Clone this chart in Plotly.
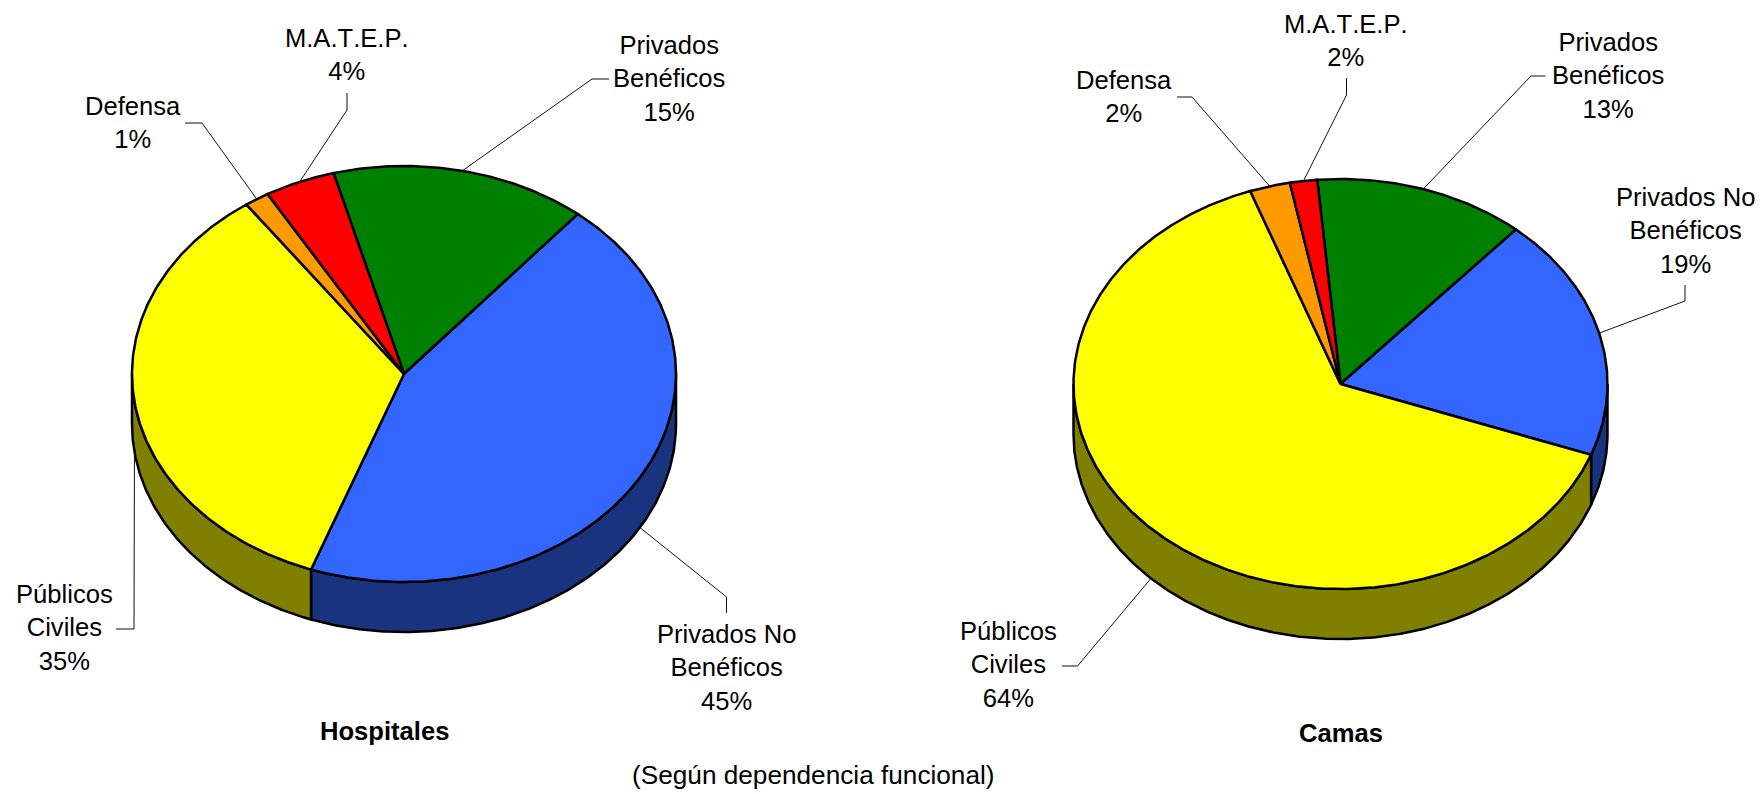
import numpy as np
import plotly.graph_objects as go

# ---- data (clockwise from the first slice) ----
categories = ["Privados Benéficos", "Privados No Benéficos", "Públicos Civiles", "Defensa", "M.A.T.E.P."]
hospitales_values = [15.2, 44.5, 34.6, 1.47, 4.2]
camas_values = [12.8, 19.2, 63.9, 2.45, 1.65]
hospitales_labels = ["15%", "45%", "35%", "1%", "4%"]
camas_labels = ["13%", "19%", "64%", "2%", "2%"]
label_names = ["Privados<br>Benéficos", "Privados No<br>Benéficos", "Públicos<br>Civiles", "Defensa", "M.A.T.E.P."]
chart_titles = ["Hospitales", "Camas"]
subtitle = "(Según dependencia funcional)"

# ---- styles ----
top_colors = ["#008000", "#3366FF", "#FFFF00", "#FF9900", "#FF0000"]
side_colors = ["#004000", "#1A337F", "#808000", "#804C00", "#800000"]
FONT = "Liberation Sans, Arial, sans-serif"
FS = 25.6
FS_SUB = 26.2
EDGE = 2.5

# ---- layout geometry, pixels ----
pies = [
    dict(cx=404.0, cy=374.0, rx=272.0, ry=208.0, depth=50.0, start=-15.0,
         values=hospitales_values, labels=hospitales_labels,
         text_pos=[(669, 78), (726.5, 667), (64, 627.5), (133, 122), (346.5, 54)],
         elbows=[[(609, 79), (592, 79)], [(726.5, 613), (726.5, 597)], [(116, 629), (134, 629)],
                 [(185, 123), (202, 123)], [(347, 93), (347, 110)]],
         title_pos=(384, 731)),
    dict(cx=1340.5, cy=384.0, rx=267.0, ry=205.0, depth=50.0, start=-5.0,
         values=camas_values, labels=camas_labels,
         text_pos=[(1607.5, 75.5), (1685, 230), (1008, 664.5), (1124, 96), (1345.5, 40)],
         elbows=[[(1545.5, 76), (1531, 76)], [(1685, 285), (1685, 301)], [(1062, 666), (1077.5, 666)],
                 [(1177, 97), (1192, 97)], [(1346.5, 78), (1346.5, 95)]],
         title_pos=(1341, 733)),
]


def ell(p, deg):
    t = np.radians(deg)
    return p["cx"] + p["rx"] * np.sin(t), p["cy"] - p["ry"] * np.cos(t)


fig = go.Figure()
annotations = []

for p in pies:
    vals = np.array(p["values"], dtype=float)
    edges = p["start"] + np.concatenate([[0], np.cumsum(vals / vals.sum() * 360)])

    # side wall: only the front half (90..270 degrees) of the rim is visible
    for i in range(len(vals)):
        for k in (-360, 0, 360):
            lo, hi = max(edges[i], 90 + k), min(edges[i + 1], 270 + k)
            if lo >= hi:
                continue
            a = np.linspace(lo, hi, max(3, int((hi - lo) * 2)))
            x, y = ell(p, a)
            xs = np.concatenate([x, x[::-1], x[:1]])
            ys = np.concatenate([y, y[::-1] + p["depth"], y[:1]])
            fig.add_trace(go.Scatter(x=xs, y=ys, mode="lines", fill="toself", fillcolor=side_colors[i],
                                     line=dict(color="black", width=EDGE), hoverinfo="skip", showlegend=False))

    # top face
    for i in range(len(vals)):
        a = np.linspace(edges[i], edges[i + 1], max(3, int((edges[i + 1] - edges[i]) * 2)))
        x, y = ell(p, a)
        xs = np.concatenate([[p["cx"]], x, [p["cx"]]])
        ys = np.concatenate([[p["cy"]], y, [p["cy"]]])
        fig.add_trace(go.Scatter(x=xs, y=ys, mode="lines", fill="toself", fillcolor=top_colors[i],
                                 line=dict(color="black", width=EDGE), name=categories[i],
                                 text=f"{categories[i]}: {p['labels'][i]}", hoverinfo="text", showlegend=False))

    # leader lines and labels
    for i in range(len(vals)):
        mid = (edges[i] + edges[i + 1]) / 2
        ax, ay = ell(p, mid)
        if np.cos(np.radians(mid)) < 0:
            ay += p["depth"]
        (x0, y0), (x1, y1) = p["elbows"][i]
        fig.add_trace(go.Scatter(x=[x0, x1, ax], y=[y0, y1, ay], mode="lines",
                                 line=dict(color="#111111", width=1), hoverinfo="skip", showlegend=False))
        tx, ty = p["text_pos"][i]
        annotations.append(dict(x=tx, y=ty, text=f"{label_names[i]}<br>{p['labels'][i]}", showarrow=False,
                                xanchor="center", yanchor="middle", align="center",
                                font=dict(family=FONT, size=FS, color="black")))

for p, t in zip(pies, chart_titles):
    annotations.append(dict(x=p["title_pos"][0], y=p["title_pos"][1], text=f"<b>{t}</b>", showarrow=False,
                            xanchor="center", yanchor="middle",
                            font=dict(family=FONT, size=FS, color="black")))
annotations.append(dict(x=813, y=775, text=subtitle, showarrow=False, xanchor="center", yanchor="middle",
                        font=dict(family=FONT, size=FS_SUB, color="black")))

fig.update_layout(
    width=1763, height=794, margin=dict(l=0, r=0, t=0, b=0),
    paper_bgcolor="white", plot_bgcolor="white", annotations=annotations,
    xaxis=dict(range=[0, 1763], visible=False, fixedrange=True),
    yaxis=dict(range=[794, 0], visible=False, fixedrange=True),
)
post = ("document.body.style.margin='0';document.body.style.overflow='hidden';"
        "var st=document.createElement('style');st.textContent='text{font-kerning:none !important;}';"
        "document.head.appendChild(st);")
fig.write_html("out.html", config={"displayModeBar": False}, post_script=post)
